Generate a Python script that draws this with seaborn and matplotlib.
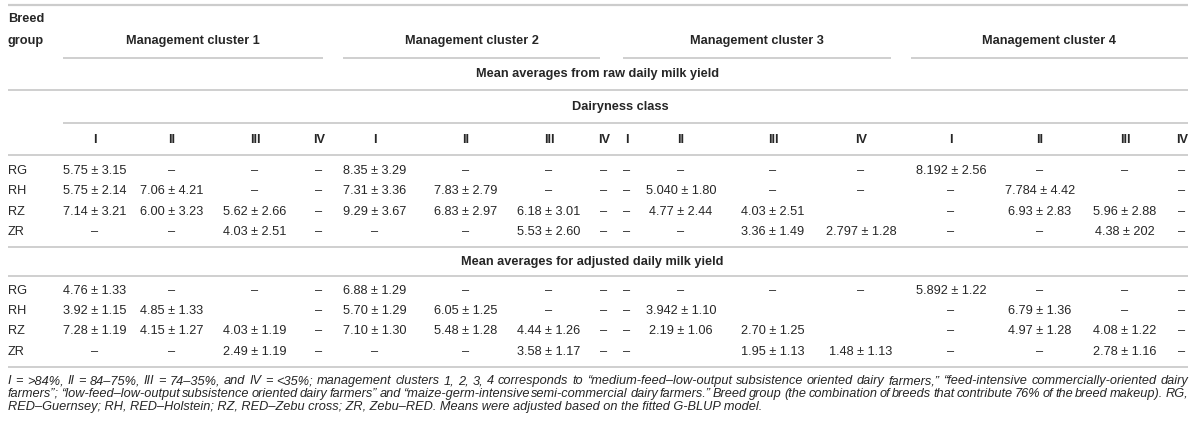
import matplotlib
matplotlib.use("Agg")
import matplotlib.pyplot as plt
import seaborn as sns

sns.set_theme(style="white")
plt.rcParams["font.family"] = ["Liberation Sans", "DejaVu Sans"]

# table content
BREEDS = ["RG", "RH", "RZ", "ZR"]
CLUSTERS = ["Management cluster 1", "Management cluster 2",
            "Management cluster 3", "Management cluster 4"]
CLASSES = ["I", "II", "III", "IV"]

RAW_RG = ["5.75 ± 3.15", "–", "–", "–", "8.35 ± 3.29", "–", "–", "–",
          "–", "–", "–", "–", "8.192 ± 2.56", "–", "–", "–"]
RAW_RH = ["5.75 ± 2.14", "7.06 ± 4.21", "–", "–", "7.31 ± 3.36", "7.83 ± 2.79", "–", "–",
          "–", "5.040 ± 1.80", "–", "–", "–", "7.784 ± 4.42", "", "–"]
RAW_RZ = ["7.14 ± 3.21", "6.00 ± 3.23", "5.62 ± 2.66", "–", "9.29 ± 3.67", "6.83 ± 2.97", "6.18 ± 3.01", "–",
          "–", "4.77 ± 2.44", "4.03 ± 2.51", "", "–", "6.93 ± 2.83", "5.96 ± 2.88", "–"]
RAW_ZR = ["–", "–", "4.03 ± 2.51", "–", "–", "–", "5.53 ± 2.60", "–",
          "–", "–", "3.36 ± 1.49", "2.797 ± 1.28", "–", "–", "4.38 ± 202", "–"]

ADJ_RG = ["4.76 ± 1.33", "–", "–", "–", "6.88 ± 1.29", "–", "–", "–",
          "–", "–", "–", "–", "5.892 ± 1.22", "–", "–", "–"]
ADJ_RH = ["3.92 ± 1.15", "4.85 ± 1.33", "", "–", "5.70 ± 1.29", "6.05 ± 1.25", "–", "–",
          "–", "3.942 ± 1.10", "", "", "–", "6.79 ± 1.36", "–", "–"]
ADJ_RZ = ["7.28 ± 1.19", "4.15 ± 1.27", "4.03 ± 1.19", "–", "7.10 ± 1.30", "5.48 ± 1.28", "4.44 ± 1.26", "–",
          "–", "2.19 ± 1.06", "2.70 ± 1.25", "", "–", "4.97 ± 1.28", "4.08 ± 1.22", "–"]
ADJ_ZR = ["–", "–", "2.49 ± 1.19", "–", "–", "–", "3.58 ± 1.17", "–",
          "–", "", "1.95 ± 1.13", "1.48 ± 1.13", "–", "–", "2.78 ± 1.16", "–"]

FOOTNOTE = [
    "I = >84%, II = 84–75%, III = 74–35%, and IV = <35%; management clusters 1, 2, 3, 4 corresponds to "
    "“medium-feed–low-output subsistence oriented dairy farmers,” “feed-intensive commercially-oriented dairy",
    "farmers”; “low-feed–low-output subsistence oriented dairy farmers” and “maize-germ-intensive "
    "semi-commercial dairy farmers.” Breed group (the combination of breeds that contribute 76% of the breed makeup). RG,",
    "RED–Guernsey; RH, RED–Holstein; RZ, RED–Zebu cross; ZR, Zebu–RED. Means were adjusted based on the fitted G-BLUP model.",
]

# layout (pixels)
W, H = 1200, 423
LEFT, RIGHT, DATA_LEFT = 8, 1188, 63
COL_X = [95, 172, 255, 319, 375, 466, 549, 604,
         627, 681, 773, 861, 951, 1040, 1125, 1182]
CLUSTER_SPAN = [(63, 323), (343, 600), (623, 891), (911, 1188)]
RAW_Y = [171, 191, 212, 232]
ADJ_Y = [291, 311, 331, 352]
FOOT_Y = [381, 394, 407]
TXT = "#262626"
RULE = "#cccccc"
FS = 9.2

fig = plt.figure(figsize=(W / 100, H / 100), dpi=100)
ax = fig.add_axes([0, 0, 1, 1])
ax.set_xlim(0, W)
ax.set_ylim(H, 0)
ax.axis("off")


def rule(y, x0=LEFT, x1=RIGHT, lw=1.3):
    ax.hlines(y, x0, x1, color=RULE, lw=lw)


def bold(x, y, s, ha="center"):
    ax.text(x, y, s, ha=ha, va="center", fontsize=FS, fontweight="bold", color=TXT)


# header
rule(5, lw=1.6)
bold(LEFT, 19, "Breed", ha="left")
bold(LEFT, 41, "group", ha="left")
for name, (x0, x1) in zip(CLUSTERS, CLUSTER_SPAN):
    bold((x0 + x1) / 2, 41, name)
    rule(58, x0, x1)
bold(598, 74, "Mean averages from raw daily milk yield")
rule(90)
bold(620, 107, "Dairyness class")
rule(123, DATA_LEFT, RIGHT)
for i, x in enumerate(COL_X):
    bold(x, 140, CLASSES[i % 4])
rule(155)


def body(rows, ys):
    for breed, vals, y in zip(BREEDS, rows, ys):
        ax.text(LEFT, y, breed, ha="left", va="center", fontsize=FS, color=TXT)
        for x, v in zip(COL_X, vals):
            if v:
                ax.text(x, y, v, ha="center", va="center", fontsize=FS, color=TXT)


body([RAW_RG, RAW_RH, RAW_RZ, RAW_ZR], RAW_Y)
rule(247)
bold(592, 262, "Mean averages for adjusted daily milk yield")
rule(276)
body([ADJ_RG, ADJ_RH, ADJ_RZ, ADJ_ZR], ADJ_Y)
rule(367)

# footnote, first two lines justified
renderer = fig.canvas.get_renderer()
for k, (line, y) in enumerate(zip(FOOTNOTE, FOOT_Y)):
    if k == len(FOOTNOTE) - 1:
        ax.text(LEFT, y, line, ha="left", va="center", fontsize=FS, style="italic", color=TXT)
        continue
    words = line.split(" ")
    texts = [ax.text(0, y, w, ha="left", va="center", fontsize=FS, style="italic", color=TXT)
             for w in words]
    widths = [t.get_window_extent(renderer).width for t in texts]
    gap = (RIGHT - LEFT - sum(widths)) / (len(words) - 1)
    x = LEFT
    for t, w in zip(texts, widths):
        t.set_x(x)
        x += w + gap

fig.savefig("out.png", dpi=100)
